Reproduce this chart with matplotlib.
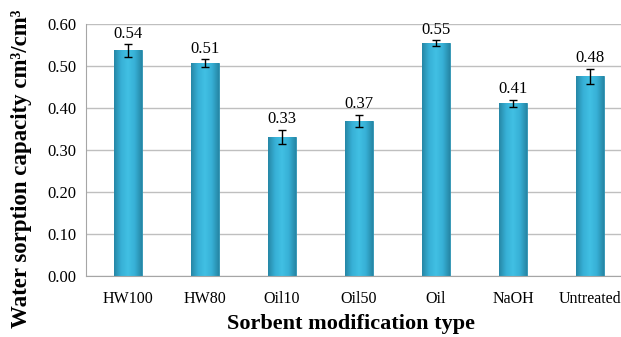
import numpy as np
import matplotlib.pyplot as plt
from matplotlib.colors import LinearSegmentedColormap

categories = ["HW100", "HW80", "Oil10", "Oil50", "Oil", "NaOH", "Untreated"]
values = [0.537, 0.507, 0.331, 0.369, 0.554, 0.411, 0.476]
errors = [0.015, 0.009, 0.017, 0.015, 0.007, 0.008, 0.018]
labels = ["0.54", "0.51", "0.33", "0.37", "0.55", "0.41", "0.48"]

plt.rcParams['font.family'] = ['Liberation Serif', 'DejaVu Serif']

fig = plt.figure(figsize=(6.21, 3.37), dpi=100)
ax = fig.add_axes([0.1385, 0.181, 0.8615, 0.7478])

x = np.arange(len(categories))
width = 0.36
bars = ax.bar(x, values, width=width, color="#3cb8dc", edgecolor="#2b8fae",
              linewidth=0.6, zorder=2)

# cylinder-ish shading
cmap = LinearSegmentedColormap.from_list(
    "cyl", ["#2687a6", "#37b0d6", "#41c0e4", "#37b0d6", "#2687a6"])
grad = np.linspace(0, 1, 64).reshape(1, -1)
for b in bars:
    x0, w, h = b.get_x(), b.get_width(), b.get_height()
    im = ax.imshow(grad, cmap=cmap, aspect="auto", extent=[x0, x0 + w, 0, h],
                   zorder=2.5)
    im.set_clip_path(b)

ax.errorbar(x, values, yerr=errors, fmt="none", ecolor="black",
            elinewidth=1, capsize=3, capthick=1, zorder=4)

for xi, v, e, lab in zip(x, values, errors, labels):
    ax.text(xi, v + e + 0.006, lab, ha="center", va="bottom", fontsize=12)

ax.set_xlim(-0.545, 6.40)
ax.set_ylim(0, 0.6)
ax.set_yticks(np.arange(0, 0.61, 0.1))
ax.set_yticklabels([f"{t:.2f}" for t in np.arange(0, 0.61, 0.1)], fontsize=12)
ax.set_xticks(x)
ax.set_xticklabels(categories, fontsize=11.5)
ax.tick_params(axis="x", length=0, pad=11)
ax.tick_params(axis="y", length=0, pad=7)
ax.grid(axis="y", color="#bfbfbf", linewidth=1, zorder=0)
ax.set_axisbelow(True)
for s in ["top", "right"]:
    ax.spines[s].set_visible(False)
for s in ["left", "bottom"]:
    ax.spines[s].set_color("#a6a6a6")

ax.set_xlabel("Sorbent modification type", fontsize=16, fontweight="bold", va="center")
ax.xaxis.set_label_coords(0.495, -0.19)
ax.set_ylabel("Water sorption capacity cm³/cm³", fontsize=16.5,
              fontweight="bold", va="center")
ax.yaxis.set_label_coords(-0.12, 0.425)

fig.savefig("out.png", dpi=100)
